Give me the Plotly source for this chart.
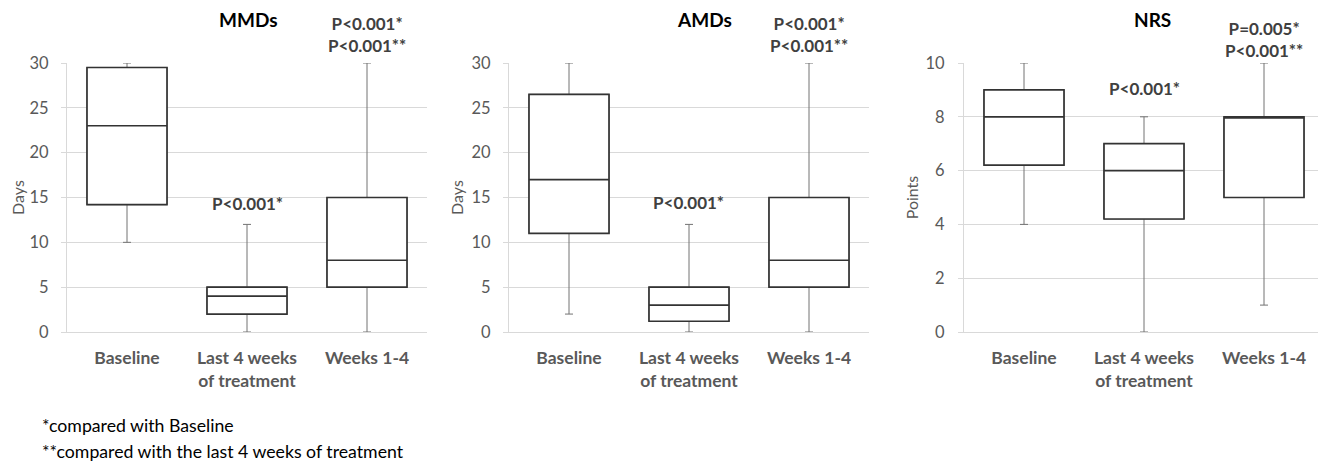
import plotly.graph_objects as go

categories = ["Baseline", "Last 4 weeks<br>of treatment", "Weeks 1-4"]

# MMDs (days): min, Q1, median, Q3, max per category
mmd_min = [10, 0, 0]
mmd_q1 = [14.2, 2, 5]
mmd_med = [23, 4, 8]
mmd_q3 = [29.5, 5, 15]
mmd_max = [30, 12, 30]

# AMDs (days)
amd_min = [2, 0, 0]
amd_q1 = [11, 1.2, 5]
amd_med = [17, 3, 8]
amd_q3 = [26.5, 5, 15]
amd_max = [30, 12, 30]

# NRS (points)
nrs_min = [4, 0, 1]
nrs_q1 = [6.2, 4.2, 5]
nrs_med = [8, 6, 8]
nrs_q3 = [9, 7, 8]
nrs_max = [10, 8, 10]

titles = ["MMDs", "AMDs", "NRS"]
ytitles = ["Days", "Days", "Points"]
yranges = [[0, 30], [0, 30], [0, 10]]
ydticks = [5, 5, 2]

W, H = 1326, 471
OFF = 8  # page body margin offset
px_domains = [(67, 427), (509, 869), (964, 1324)]
y_top_px, y_bot_px = 63, 332


def fx(p):
    return (p - OFF) / W


def fy(p):
    return (H - (p - OFF)) / H


fig = go.Figure()
panels = [
    (mmd_min, mmd_q1, mmd_med, mmd_q3, mmd_max),
    (amd_min, amd_q1, amd_med, amd_q3, amd_max),
    (nrs_min, nrs_q1, nrs_med, nrs_q3, nrs_max),
]
for i, (mn, q1, md, q3, mx) in enumerate(panels):
    xa = "x" if i == 0 else f"x{i+1}"
    ya = "y" if i == 0 else f"y{i+1}"
    # whiskers (thin gray)
    fig.add_trace(go.Box(
        x=categories, lowerfence=mn, q1=q1, median=md, q3=q3, upperfence=mx,
        xaxis=xa, yaxis=ya, width=2/3, whiskerwidth=0.1,
        line=dict(color="#737373", width=1), fillcolor="white",
        showlegend=False, hoverinfo="skip", boxpoints=False,
    ))
    # box outline (dark)
    fig.add_trace(go.Box(
        x=categories, lowerfence=q1, q1=q1, median=md, q3=q3, upperfence=q3,
        xaxis=xa, yaxis=ya, width=2/3, whiskerwidth=0,
        line=dict(color="#333333", width=1.7), fillcolor="white",
        showlegend=False, hoverinfo="skip", boxpoints=False,
    ))

font_family = "Lato, 'Open Sans', sans-serif"
ydom = [fy(y_bot_px), fy(y_top_px)]
tick_standoff = [9, 9, 10]
title_standoff = [3, 3, 2]

layout = dict(
    width=W, height=H, margin=dict(l=0, r=0, t=0, b=0, autoexpand=False),
    paper_bgcolor="white", plot_bgcolor="white",
    boxmode="overlay", font=dict(family=font_family, color="#595959"),
)
for i in range(3):
    sfx = "" if i == 0 else str(i + 1)
    x0, x1 = px_domains[i]
    layout["xaxis" + sfx] = dict(
        domain=[fx(x0), fx(x1)], anchor="y" + sfx, type="category",
        range=[-0.5, 2.5], showgrid=False, showline=True, linecolor="#d9d9d9",
        linewidth=1, ticks="", automargin=False,
        tickfont=dict(size=17.5, color="#595959", family=font_family, weight="bold"),
        ticklabelstandoff=10, fixedrange=True,
    )
    layout["yaxis" + sfx] = dict(
        domain=ydom, anchor="x" + sfx, range=yranges[i], dtick=ydticks[i],
        showgrid=True, gridcolor="#d9d9d9", gridwidth=1, zeroline=False,
        showline=True, linecolor="#d9d9d9", linewidth=1,
        ticks="outside", ticklen=5, tickcolor="#d9d9d9", tickwidth=1, automargin=False,
        tickfont=dict(size=16.5, color="#595959"), ticklabelstandoff=tick_standoff[i],
        title=dict(text=ytitles[i], font=dict(size=16, color="#595959"), standoff=title_standoff[i]),
        fixedrange=True,
    )
fig.update_layout(**layout)

ann = []
title_x_px = [248, 704, 1152]
for i in range(3):
    ann.append(dict(text="<b>" + titles[i] + "</b>", x=fx(title_x_px[i]), y=fy(20),
                    xref="paper", yref="paper", xanchor="center", yanchor="middle", showarrow=False,
                    font=dict(size=19, color="black", family=font_family)))

pfont = dict(size=17, color="#404040", family=font_family)
p_texts = [
    [(1, "P<0.001*", 203), (2, "P<0.001*<br>P<0.001**", 35)],
    [(1, "P<0.001*", 202), (2, "P<0.001*<br>P<0.001**", 35)],
    [(1, "P<0.001*", 89), (2, "P=0.005*<br>P<0.001**", 40)],
]
for i in range(3):
    for k, t, ypx in p_texts[i]:
        cx = px_domains[i][0] + 120 * k + 60
        ann.append(dict(text="<b>" + t + "</b>", x=fx(cx), y=fy(ypx), xref="paper", yref="paper",
                        xanchor="center", yanchor="middle", showarrow=False, font=pfont))

foot = dict(size=17.7, color="black", family=font_family)
ann.append(dict(text="*compared with Baseline", x=fx(40), y=fy(425), xref="paper", yref="paper",
                xanchor="left", yanchor="middle", showarrow=False, font=foot))
ann.append(dict(text="**compared with the last 4 weeks of treatment", x=fx(40), y=fy(451), xref="paper", yref="paper",
                xanchor="left", yanchor="middle", showarrow=False, font=foot))
fig.update_layout(annotations=ann)

fig.write_html("out.html")
